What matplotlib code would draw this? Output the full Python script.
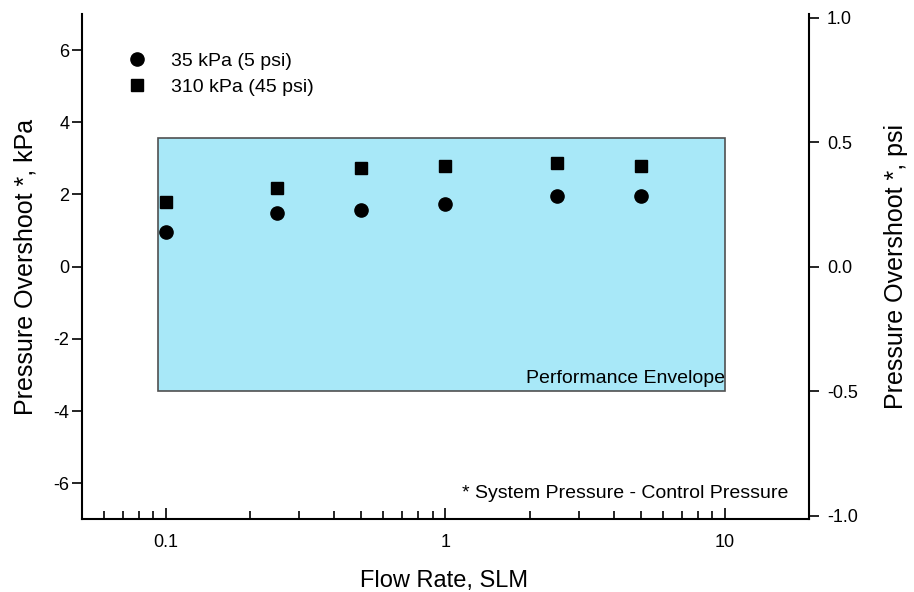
import matplotlib
matplotlib.use("Agg")
import matplotlib.pyplot as plt
from matplotlib.patches import Rectangle
from matplotlib.ticker import FixedLocator, NullFormatter, FuncFormatter

plt.rcParams['font.family'] = ['Liberation Sans', 'DejaVu Sans']
plt.rcParams['axes.unicode_minus'] = False

flow = [0.1, 0.25, 0.5, 1.0, 2.5, 5.0]
overshoot_35kpa = [0.95, 1.50, 1.57, 1.75, 1.96, 1.96]
overshoot_310kpa = [1.79, 2.19, 2.73, 2.80, 2.87, 2.80]
labels = ["35 kPa (5 psi)", "310 kPa (45 psi)"]
envelope_x = [0.0935, 10.0]
envelope_y = [-3.45, 3.55]
KPA_PER_PSI = 6.895

fig = plt.figure(figsize=(9.14, 5.92), dpi=100)
ax = fig.add_axes([0.0897, 0.1225, 0.7953, 0.854])
ax.set_xscale('log')
ax.set_xlim(0.05, 20)
ax.set_ylim(-7, 7)

ax.add_patch(Rectangle((envelope_x[0], envelope_y[0]),
                       envelope_x[1] - envelope_x[0], envelope_y[1] - envelope_y[0],
                       facecolor='#a8e8f8', edgecolor='#505050', linewidth=1.2, zorder=1))

ax.plot(flow, overshoot_35kpa, 'o', color='black', markersize=9.5, label=labels[0], zorder=3)
ax.plot(flow, overshoot_310kpa, 's', color='black', markersize=9, label=labels[1], zorder=3)

ax.spines['top'].set_visible(False)
ax.spines['right'].set_visible(False)
for s in ['left', 'bottom']:
    ax.spines[s].set_linewidth(1.5)

ax.set_yticks([-6, -4, -2, 0, 2, 4, 6])
ax.tick_params(axis='y', direction='out', length=7, width=1.2, labelsize=13, pad=2)
ax.xaxis.set_major_locator(FixedLocator([0.1, 1, 10]))
ax.xaxis.set_major_formatter(FuncFormatter(lambda v, p: {0.1: '0.1', 1: '1', 10: '10'}.get(round(v, 3), '')))
minors = [m * d for d in [0.01, 0.1, 1, 10] for m in range(2, 10)]
minors = [v for v in minors if 0.05 < v < 20]
ax.xaxis.set_minor_locator(FixedLocator(minors))
ax.xaxis.set_minor_formatter(NullFormatter())
ax.tick_params(axis='x', which='major', direction='in', length=8, width=1.2, labelsize=13, pad=10.5)
ax.tick_params(axis='x', which='minor', direction='in', length=6, width=1.2)

xl = ax.set_xlabel('Flow Rate, SLM', fontsize=17)
ax.xaxis.set_label_coords(0.4986, (519.5 - 581) / 505.5)
xl.set_va('center')
yl = ax.set_ylabel('Pressure Overshoot *, kPa', fontsize=18)
ax.yaxis.set_label_coords((26 - 82) / 727, 0.5)
yl.set_va('center')

ax2 = ax.twinx()
ax2.set_ylim(-7 / KPA_PER_PSI, 7 / KPA_PER_PSI)
ax2.set_yticks([-1.0, -0.5, 0.0, 0.5, 1.0])
ax2.yaxis.set_major_formatter(FuncFormatter(lambda v, p: f'{v:.1f}'))
for s in ['top', 'left', 'bottom']:
    ax2.spines[s].set_visible(False)
ax2.spines['right'].set_linewidth(1.5)
ax2.tick_params(axis='y', direction='out', length=7, width=1.2, labelsize=13, pad=6)
yr = ax2.set_ylabel('Pressure Overshoot *, psi', fontsize=18)
ax2.yaxis.set_label_coords((896 - 82) / 727, 0.5)
yr.set_va('center')

ax.legend(loc='upper left', bbox_to_anchor=(0.052, 0.94), frameon=False, fontsize=14,
          handletextpad=1.25, labelspacing=0.45, borderaxespad=0, handlelength=1.0)

ax.text(10, -3.45 + 0.12, 'Performance Envelope', ha='right', va='bottom', fontsize=14)
ax.text(0.972, 0.035, '* System Pressure - Control Pressure', transform=ax.transAxes,
        ha='right', va='bottom', fontsize=14)

fig.savefig('out.png', dpi=100)
